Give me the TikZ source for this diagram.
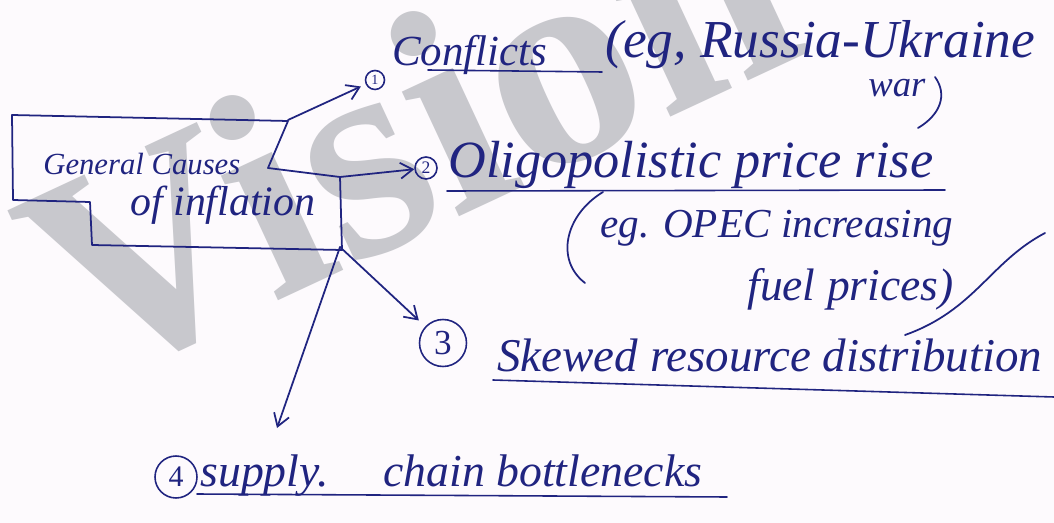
\documentclass[tikz,border=0pt]{standalone}
\usepackage{fontspec}
\setmainfont{Liberation Serif}
\usetikzlibrary{arrows.meta}
\definecolor{ink}{RGB}{32,36,128}
\definecolor{paper}{RGB}{253,250,253}
\definecolor{wmark}{RGB}{200,200,205}
% set a handwritten line to a fixed width
\newcommand{\fitw}[2]{\resizebox{#1}{!}{#2}}
\tikzset{
  inkline/.style={draw=ink, line width=1pt, line cap=round, line join=round},
  link/.style={inkline, -{Straight Barb[length=7pt,width=9pt]}},
  num/.style={circle, draw=ink, line width=0.9pt, text=ink, inner sep=0pt},
  hand/.style={text=ink, inner sep=0pt, font=\itshape},
  uline/.style={draw=ink, line width=0.9pt, line cap=round},
}
\begin{document}
\begin{tikzpicture}[x=0.02cm,y=-0.02cm]
  \fill[paper] (0,0) rectangle (1054,523);
  \useasboundingbox (0,0) rectangle (1054,523);

  % watermark behind the notes
  \begin{scope}
    \clip (0,0) rectangle (1054,523);
    \node[anchor=base west, rotate=25, text=wmark, inner sep=0pt,
          font=\fontsize{170}{170}\selectfont\bfseries] (wm) at (87,390) {Vision};
  \end{scope}

  % central notched box
  \draw[inkline] (12,115) -- (288,121) -- (268,168) -- (340,177) -- (342,250)
                 -- (92,245) -- (90,202) -- (13,200) -- cycle;
  \coordinate (c1) at (288,120);
  \coordinate (c2) at (340,177);
  \coordinate (c3) at (340,247);
  \node[hand, anchor=base west] (gc1) at (43,175) {\fitw{3.94cm}{General Causes}};
  \node[hand, anchor=base west] (gc2) at (130,216) {\fitw{3.7cm}{of inflation}};

  % 1
  \node[num, minimum size=0.38cm, font=\fontsize{8}{8}\selectfont] (n1) at (375,80) {1};
  \node[hand, anchor=base west] (t1) at (392,66) {\fitw{3.10cm}{Conflicts}};
  \draw[uline] (428,70) -- (602,72);
  \node[hand, anchor=base west] (t1b) at (605,58) {\fitw{8.6cm}{(eg, Russia-Ukraine}};
  \node[hand, anchor=base west] (t1c) at (868,97) {\fitw{1.14cm}{war}};
  \draw[inkline] (935,77) .. controls (948,95) and (940,115) .. (918,128);

  % 2
  \node[num, minimum size=0.44cm, font=\fontsize{10}{10}\selectfont] (n2) at (426,168) {2};
  \node[hand, anchor=base west] (t2) at (448,178) {\fitw{9.7cm}{Oligopolistic price rise}};
  \draw[uline] (447,191) -- (945,190);
  \draw[inkline] (603,192) .. controls (565,215) and (555,260) .. (585,283);
  \node[hand, anchor=base west] (t2b) at (600,238) {\fitw{7.06cm}{eg. OPEC increasing}};
  \node[hand, anchor=base west] (t2c) at (747,300) {\fitw{4.12cm}{fuel prices)}};
  \draw[inkline] (1045,233) .. controls (990,262) and (975,310) .. (905,335);

  % 3
  \node[num, minimum size=0.94cm, font=\fontsize{20}{20}\selectfont] (n3) at (443,343) {3};
  \node[hand, anchor=base west] (t3) at (497,372) {\fitw{10.9cm}{Skewed resource distribution}};
  \draw[uline] (493,380) -- (1054,397);

  % 4
  \node[num, minimum size=0.84cm, font=\fontsize{17}{17}\selectfont] (n4) at (176,477) {4};
  \node[hand, anchor=base west] (t4) at (200,486) {\fitw{10.04cm}{supply.\hspace{1.2em}chain bottlenecks}};
  \draw[uline] (197,494) -- (727,497);
  \coordinate (a4) at (277,428);

  % connectors
  \draw[link, shorten >=3pt] (c1) -- (n1);
  \draw[link] (c2) -- (n2);
  \draw[link, shorten >=5pt] (c3) -- (n3);
  \draw[link] (c3) -- (a4);
\end{tikzpicture}
\end{document}
